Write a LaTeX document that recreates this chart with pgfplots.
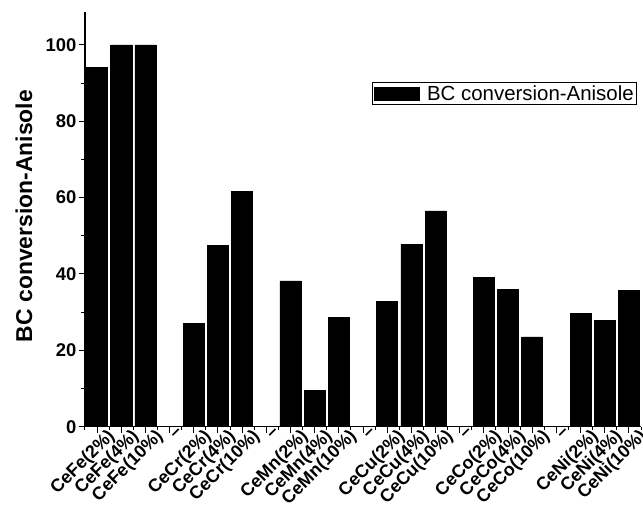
\documentclass[border=0pt]{standalone}
\usepackage{fontspec}
\setmainfont{Liberation Sans}
\usepackage{pgfplots}
\pgfplotsset{compat=1.18}
\pgfplotstableread{
x y
0 94.0
1 100
2 100
3 0
4 27.1
5 47.5
6 61.7
7 0
8 38.2
9 9.5
10 28.7
11 0
12 32.8
13 47.8
14 56.5
15 0
16 39.2
17 36.0
18 23.5
19 0
20 29.7
21 27.9
22 35.7
}\datatable
\begin{document}
\begin{tikzpicture}
\begin{axis}[
  scale only axis, width=556bp, height=414.7bp,
  xmin=-0.5, xmax=22.5, ymin=0, ymax=108.6,
  axis x line*=bottom, axis y line*=left,
  axis line style={-, line width=1.2bp},
  ybar, bar width=0.87, bar shift=0pt,
  xtick={0,...,22},
  xticklabels={CeFe(2\%),CeFe(4\%),CeFe(10\%),--,CeCr(2\%),CeCr(4\%),CeCr(10\%),--,CeMn(2\%),CeMn(4\%),CeMn(10\%),--,CeCu(2\%),CeCu(4\%),CeCu(10\%),--,CeCo(2\%),CeCo(4\%),CeCo(10\%),--,CeNi(2\%),CeNi(4\%),CeNi(10\%)},
  minor xtick={-0.5,0.5,...,22.5},
  ytick={0,20,...,100}, minor ytick={10,30,...,90},
  tick align=outside, major tick length=6bp, minor tick length=3.5bp,
  every tick/.style={line width=1bp, black},
  /pgf/number format/assume math mode=true,
  yticklabel style={font=\fontsize{18.5}{20}\selectfont\bfseries, xshift=1bp},
  xticklabel style={font=\fontsize{18}{20}\selectfont\bfseries, xshift=9bp, yshift=5bp, rotate=45, anchor=north east, inner sep=0pt},
  ylabel={BC conversion-Anisole},
  ylabel style={font=\fontsize{23}{25}\selectfont\bfseries, at={(axis description cs:-0.1097,0.508)}, anchor=center},
  legend style={at={(rel axis cs:0.993,0.831)}, anchor=north east, draw=black, line width=0.8bp,
    font=\fontsize{20.5}{22}\selectfont, inner sep=1bp,
    /tikz/every odd column/.append style={column sep=6bp}},
  legend image code/.code={\fill[black] (0bp,-6.5bp) rectangle (45bp,6.5bp);},
]
\addplot[fill=black, draw=black, line width=0.5bp] table[x=x,y=y] {\datatable};
\addlegendentry{BC conversion-Anisole}
\end{axis}
\pgfresetboundingbox
\path[use as bounding box] ([xshift=-85bp,yshift=-82.3bp]current axis.south west) rectangle ([xshift=2bp,yshift=12bp]current axis.north east);
\end{tikzpicture}
\end{document}
